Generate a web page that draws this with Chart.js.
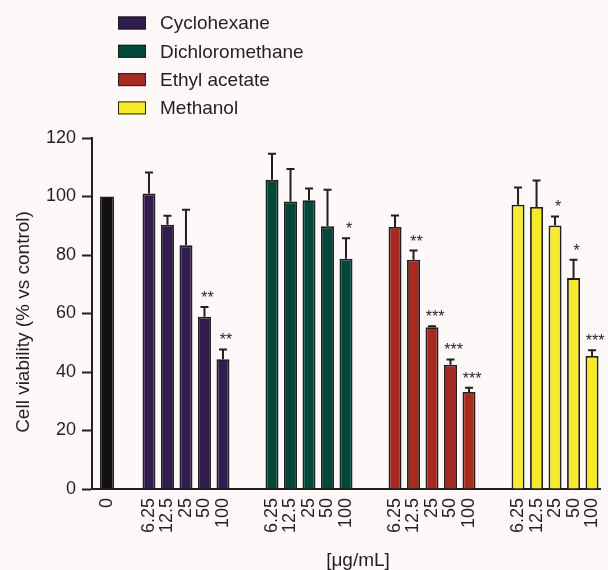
<!DOCTYPE html>
<html>
<head>
<meta charset="utf-8">
<title>Cell viability</title>
<script src="https://cdn.jsdelivr.net/npm/chart.js@4.4.1/dist/chart.umd.min.js"></script>
<style>
    html, body { margin: 0; padding: 0; background: #fdf9f8; }
    #wrap { width: 608px; height: 570px; }
</style>
</head>
<body>
<div id="wrap"><canvas id="viabilityChart" width="608" height="570"></canvas></div>
<script>
// Data
const controlLabel = '0';
const controlValue = 100;
const doseLabels = ['6.25', '12.5', '25', '50', '100'];
const seriesNames = ['Cyclohexane', 'Dichloromethane', 'Ethyl acetate', 'Methanol'];

const cyclohexane = [101.0, 90.3, 83.3, 58.9, 44.4];
const cyclohexaneSD = [7.2, 3.1, 12.2, 3.3, 3.3];
const cyclohexaneSig = ['', '', '', '**', '**'];

const dichloromethane = [105.7, 98.3, 98.7, 89.8, 78.7];
const dichloromethaneSD = [8.9, 11.1, 4.0, 12.5, 7.0];
const dichloromethaneSig = ['', '', '', '', '*'];

const ethylAcetate = [89.6, 78.4, 55.3, 42.5, 33.2];
const ethylAcetateSD = [3.9, 3.1, 0.3, 1.8, 1.4];
const ethylAcetateSig = ['', '**', '***', '***', '***'];

const methanol = [97.2, 96.4, 90.1, 72.1, 45.5];
const methanolSD = [5.9, 9.1, 3.1, 6.3, 1.9];
const methanolSig = ['', '', '*', '*', '***'];

const yTicks = [0, 20, 40, 60, 80, 100, 120];

const FONT = "'Liberation Sans', Arial, Helvetica, sans-serif";
const INK = '#231f20';
const colors = ['#311c4f', '#00483a', '#a8291f', '#f7ea2c'];

const series = [
    { values: cyclohexane, sd: cyclohexaneSD, sig: cyclohexaneSig },
    { values: dichloromethane, sd: dichloromethaneSD, sig: dichloromethaneSig },
    { values: ethylAcetate, sd: ethylAcetateSD, sig: ethylAcetateSig },
    { values: methanol, sd: methanolSD, sig: methanolSig }
];

// x layout: one unit = one bar step, control at 0, groups spaced apart
const firstGroup = 2.27;
const groupStep = 6.65;
function xPos(g, i) {
    return firstGroup + g * groupStep + i;
}

const tickPositions = [0];
const tickLabels = [controlLabel];
series.forEach((s, g) => {
    doseLabels.forEach((lab, i) => {
        tickPositions.push(xPos(g, i));
        tickLabels.push(lab);
    });
});

const datasets = [{
    label: 'Control',
    data: [{ x: 0, y: controlValue }],
    backgroundColor: '#111111',
    borderColor: INK,
    borderWidth: 1.5,
    maxBarThickness: 14
}];
series.forEach((s, g) => {
    datasets.push({
        label: seriesNames[g],
        data: s.values.map((v, i) => ({ x: xPos(g, i), y: v })),
        backgroundColor: colors[g],
        borderColor: INK,
        borderWidth: 1.8,
        maxBarThickness: 13
    });
});

const extras = {
    id: 'extras',
    beforeDraw(chart) {
        const ctx = chart.ctx;
        ctx.save();
        ctx.fillStyle = '#fdf9f8';
        ctx.fillRect(0, 0, chart.width, chart.height);
        ctx.restore();
    },
    afterDatasetsDraw(chart) {
        const ctx = chart.ctx;
        const yScale = chart.scales.y;
        ctx.save();
        ctx.strokeStyle = INK;
        ctx.fillStyle = INK;
        ctx.lineWidth = 2;
        series.forEach((s, g) => {
            const meta = chart.getDatasetMeta(g + 1);
            meta.data.forEach((bar, i) => {
                const top = yScale.getPixelForValue(s.values[i] + s.sd[i]);
                ctx.beginPath();
                ctx.moveTo(bar.x, bar.y);
                ctx.lineTo(bar.x, top);
                ctx.moveTo(bar.x - 4, top);
                ctx.lineTo(bar.x + 4, top);
                ctx.stroke();
                if (s.sig[i]) {
                    ctx.font = '16px ' + FONT;
                    ctx.textAlign = 'center';
                    ctx.textBaseline = 'alphabetic';
                    ctx.fillText(s.sig[i], bar.x + 3, top - 4);
                }
            });
        });
        ctx.restore();
    },
    afterDraw(chart) {
        const ctx = chart.ctx;
        ctx.save();
        // legend, stacked at the top
        ctx.font = '19px ' + FONT;
        ctx.textBaseline = 'middle';
        ctx.textAlign = 'left';
        seriesNames.forEach((name, g) => {
            const cy = 23 + g * 28.3;
            ctx.fillStyle = colors[g];
            ctx.fillRect(118, cy - 6.5, 28, 13);
            ctx.strokeStyle = INK;
            ctx.lineWidth = 1;
            ctx.strokeRect(118.5, cy - 6, 27, 12);
            ctx.fillStyle = INK;
            ctx.fillText(name, 160, cy + 1);
        });
        // axis titles
        ctx.font = '19px ' + FONT;
        ctx.textAlign = 'center';
        ctx.fillText('[\u03bcg/mL]', 358, 561);
        ctx.translate(24, 322);
        ctx.rotate(-Math.PI / 2);
        ctx.fillText('Cell viability (% vs control)', 0, 0);
        ctx.restore();
    }
};

const chart = new Chart(document.getElementById('viabilityChart'), {
    type: 'bar',
    data: { datasets: datasets },
    options: {
        responsive: false,
        animation: false,
        devicePixelRatio: 1,
        layout: { padding: { top: 138, left: 0, right: 8, bottom: 0 } },
        datasets: {
            bar: { grouped: false, barPercentage: 0.95, categoryPercentage: 1 }
        },
        plugins: {
            legend: { display: false },
            tooltip: { enabled: false }
        },
        scales: {
            x: {
                type: 'linear',
                offset: false,
                min: -0.81,
                max: 26.65,
                afterFit: function(scale) {
                    scale.height = 81;
                    scale.paddingLeft = 0;
                    scale.paddingRight = 0;
                },
                afterBuildTicks: function(scale) {
                    scale.ticks = tickPositions.map(v => ({ value: v }));
                },
                grid: { display: false, drawTicks: false, offset: false },
                border: { display: true, color: INK, width: 2 },
                ticks: {
                    autoSkip: false,
                    minRotation: 90,
                    maxRotation: 90,
                    padding: 9,
                    color: INK,
                    font: { family: FONT, size: 18 },
                    callback: function(value, index) {
                        return tickLabels[index];
                    }
                }
            },
            y: {
                min: 0,
                max: 120,
                afterFit: function(scale) { scale.width = 92; },
                afterBuildTicks: function(scale) {
                    scale.ticks = yTicks.map(v => ({ value: v }));
                },
                grid: {
                    drawOnChartArea: false,
                    drawTicks: true,
                    tickLength: 10,
                    tickWidth: 2,
                    tickColor: INK
                },
                border: { display: true, color: INK, width: 2 },
                ticks: {
                    padding: 6,
                    color: INK,
                    font: { family: FONT, size: 18 }
                }
            }
        }
    },
    plugins: [extras]
});
</script>
</body>
</html>
